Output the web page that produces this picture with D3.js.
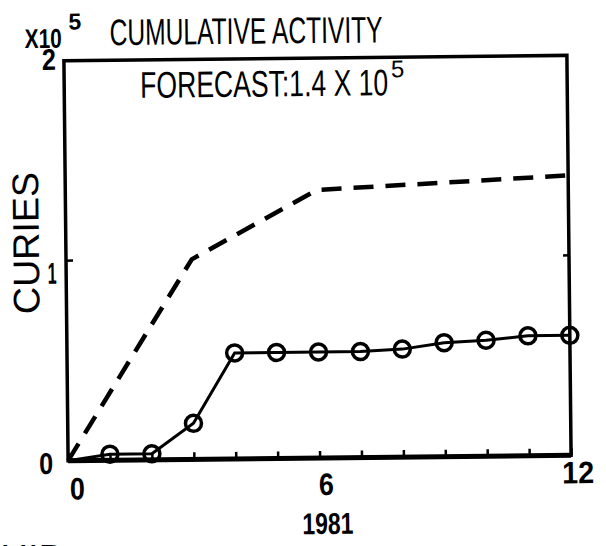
<!DOCTYPE html>
<html>
<head>
<meta charset="utf-8">
<script src="https://cdn.jsdelivr.net/npm/d3@7"></script>
<style>
  body { margin: 0; background: #fff; }
  svg { display: block; }
  text { font-family: "Liberation Sans", Arial, sans-serif; fill: #000; }
</style>
</head>
<body>
<div id="chart"></div>
<script>
// months of 1981 (0 = start)
var months = [0, 1, 2, 3, 4, 5, 6, 7, 8, 9, 10, 11, 12];
// measured cumulative activity, x10^5 curies
var actual = [0, 0.03, 0.03, 0.18, 0.53, 0.53, 0.53, 0.53, 0.54, 0.57, 0.58, 0.60, 0.60];
// forecast curve
var forecastMonths = [0, 3, 6, 12];
var forecast = [0, 1.0, 1.34, 1.40];
var xTickLabels = [0, 6, 12];
var yTickLabels = [0, 1, 2];

var width = 606, height = 546;
var margin = {top: 58, right: 37, bottom: 88, left: 66};

var svg = d3.select("#chart").append("svg")
    .attr("width", width).attr("height", height);

// the scanned page is slightly tilted
var g = svg.append("g")
    .attr("transform", "rotate(-0.6,318,258)");

var x = d3.scaleLinear().domain([0, 12]).range([margin.left, width - margin.right]);
var y = d3.scaleLinear().domain([0, 2]).range([height - margin.bottom, margin.top]);

// x ticks, pointing up into the plot
var xAxis = d3.axisBottom(x).tickValues(months).tickSize(-7).tickFormat("");
g.append("g")
    .attr("transform", "translate(0," + y(0) + ")")
    .call(xAxis)
    .call(function(a){ a.select(".domain").remove(); })
    .selectAll("line").attr("stroke", "#000").attr("stroke-width", 2.5);

// y tick at 1, both sides
g.append("line")
    .attr("x1", x(0)).attr("x2", x(0) + 7)
    .attr("y1", y(1)).attr("y2", y(1))
    .attr("stroke", "#000").attr("stroke-width", 2.5);
g.append("line")
    .attr("x1", x(12)).attr("x2", x(12) - 6)
    .attr("y1", y(1)).attr("y2", y(1))
    .attr("stroke", "#000").attr("stroke-width", 2.5);

// frame
g.append("rect")
    .attr("x", x(0)).attr("y", y(2))
    .attr("width", x(12) - x(0)).attr("height", y(0) - y(2))
    .attr("fill", "none").attr("stroke", "#000").attr("stroke-width", 3.5);
g.append("line")
    .attr("x1", x(0)).attr("x2", x(12))
    .attr("y1", y(0)).attr("y2", y(0))
    .attr("stroke", "#000").attr("stroke-width", 5);

// forecast, dashed
var fLine = d3.line()
    .x(function(d, i){ return x(forecastMonths[i]); })
    .y(function(d){ return y(d); });
g.append("path")
    .datum(forecast)
    .attr("d", fLine)
    .attr("fill", "none")
    .attr("stroke", "#000")
    .attr("stroke-width", 4.5)
    .attr("stroke-dasharray", "20,12");

// actual, solid with circles
var aLine = d3.line()
    .x(function(d, i){ return x(months[i]); })
    .y(function(d){ return y(d); });
g.append("path")
    .datum(actual)
    .attr("d", aLine)
    .attr("fill", "none")
    .attr("stroke", "#000")
    .attr("stroke-width", 3);

g.selectAll(".pt")
    .data(actual.slice(1))
    .enter().append("circle")
    .attr("class", "pt")
    .attr("cx", function(d, i){ return x(months[i + 1]); })
    .attr("cy", function(d){ return y(d); })
    .attr("r", 8)
    .attr("fill", "none")
    .attr("stroke", "#000")
    .attr("stroke-width", 3.5);

// tick labels
var xLabelPos = {0: [75, 497], 6: [324, 495], 12: [576, 486]};
g.selectAll(".xl")
    .data(xTickLabels)
    .enter().append("text")
    .attr("class", "xl")
    .attr("x", function(d){ return xLabelPos[d][0]; })
    .attr("y", function(d){ return xLabelPos[d][1]; })
    .attr("text-anchor", "middle")
    .style("font-size", "31px").style("font-weight", "bold")
    .attr("textLength", function(d){ return d == 12 ? 32 : 15; })
    .attr("lengthAdjust", "spacingAndGlyphs")
    .text(function(d){ return d; });

var yLabelPos = {0: [44, 471], 1: [52, 281], 2: [51, 67]};
g.selectAll(".yl")
    .data(yTickLabels)
    .enter().append("text")
    .attr("class", "yl")
    .attr("x", function(d){ return yLabelPos[d][0]; })
    .attr("y", function(d){ return yLabelPos[d][1]; })
    .attr("text-anchor", "middle")
    .style("font-size", "30px").style("font-weight", "bold")
    .attr("textLength", function(d){ return d == 1 ? 9 : 14; })
    .attr("lengthAdjust", "spacingAndGlyphs")
    .text(function(d){ return d; });

// titles
g.append("text")
    .attr("x", 27).attr("y", 45)
    .style("font-size", "27px").style("font-weight", "bold")
    .attr("textLength", 37).attr("lengthAdjust", "spacingAndGlyphs")
    .text("X10");
g.append("text")
    .attr("x", 71).attr("y", 27)
    .style("font-size", "23px").style("font-weight", "bold")
    .text("5");

g.append("text")
    .attr("x", 112).attr("y", 43)
    .style("font-size", "37px")
    .attr("textLength", 273).attr("lengthAdjust", "spacingAndGlyphs")
    .text("CUMULATIVE ACTIVITY");

g.append("text")
    .attr("x", 142).attr("y", 96)
    .style("font-size", "37px")
    .attr("textLength", 248).attr("lengthAdjust", "spacingAndGlyphs")
    .text("FORECAST:1.4 X 10");
g.append("text")
    .attr("x", 393).attr("y", 78)
    .style("font-size", "24px")
    .text("5");

g.append("text")
    .attr("transform", "translate(39,240) rotate(-90)")
    .attr("text-anchor", "middle")
    .style("font-size", "37px")
    .attr("textLength", 142).attr("lengthAdjust", "spacingAndGlyphs")
    .text("CURIES");

g.append("text")
    .attr("x", 325).attr("y", 534)
    .attr("text-anchor", "middle")
    .style("font-size", "30px").style("font-weight", "bold")
    .attr("textLength", 51).attr("lengthAdjust", "spacingAndGlyphs")
    .text("1981");

// cut-off label at the page edge
svg.append("text")
    .attr("x", 66).attr("y", 572)
    .attr("text-anchor", "end")
    .style("font-size", "38px")
    .text("LIQUID");
</script>
</body>
</html>
